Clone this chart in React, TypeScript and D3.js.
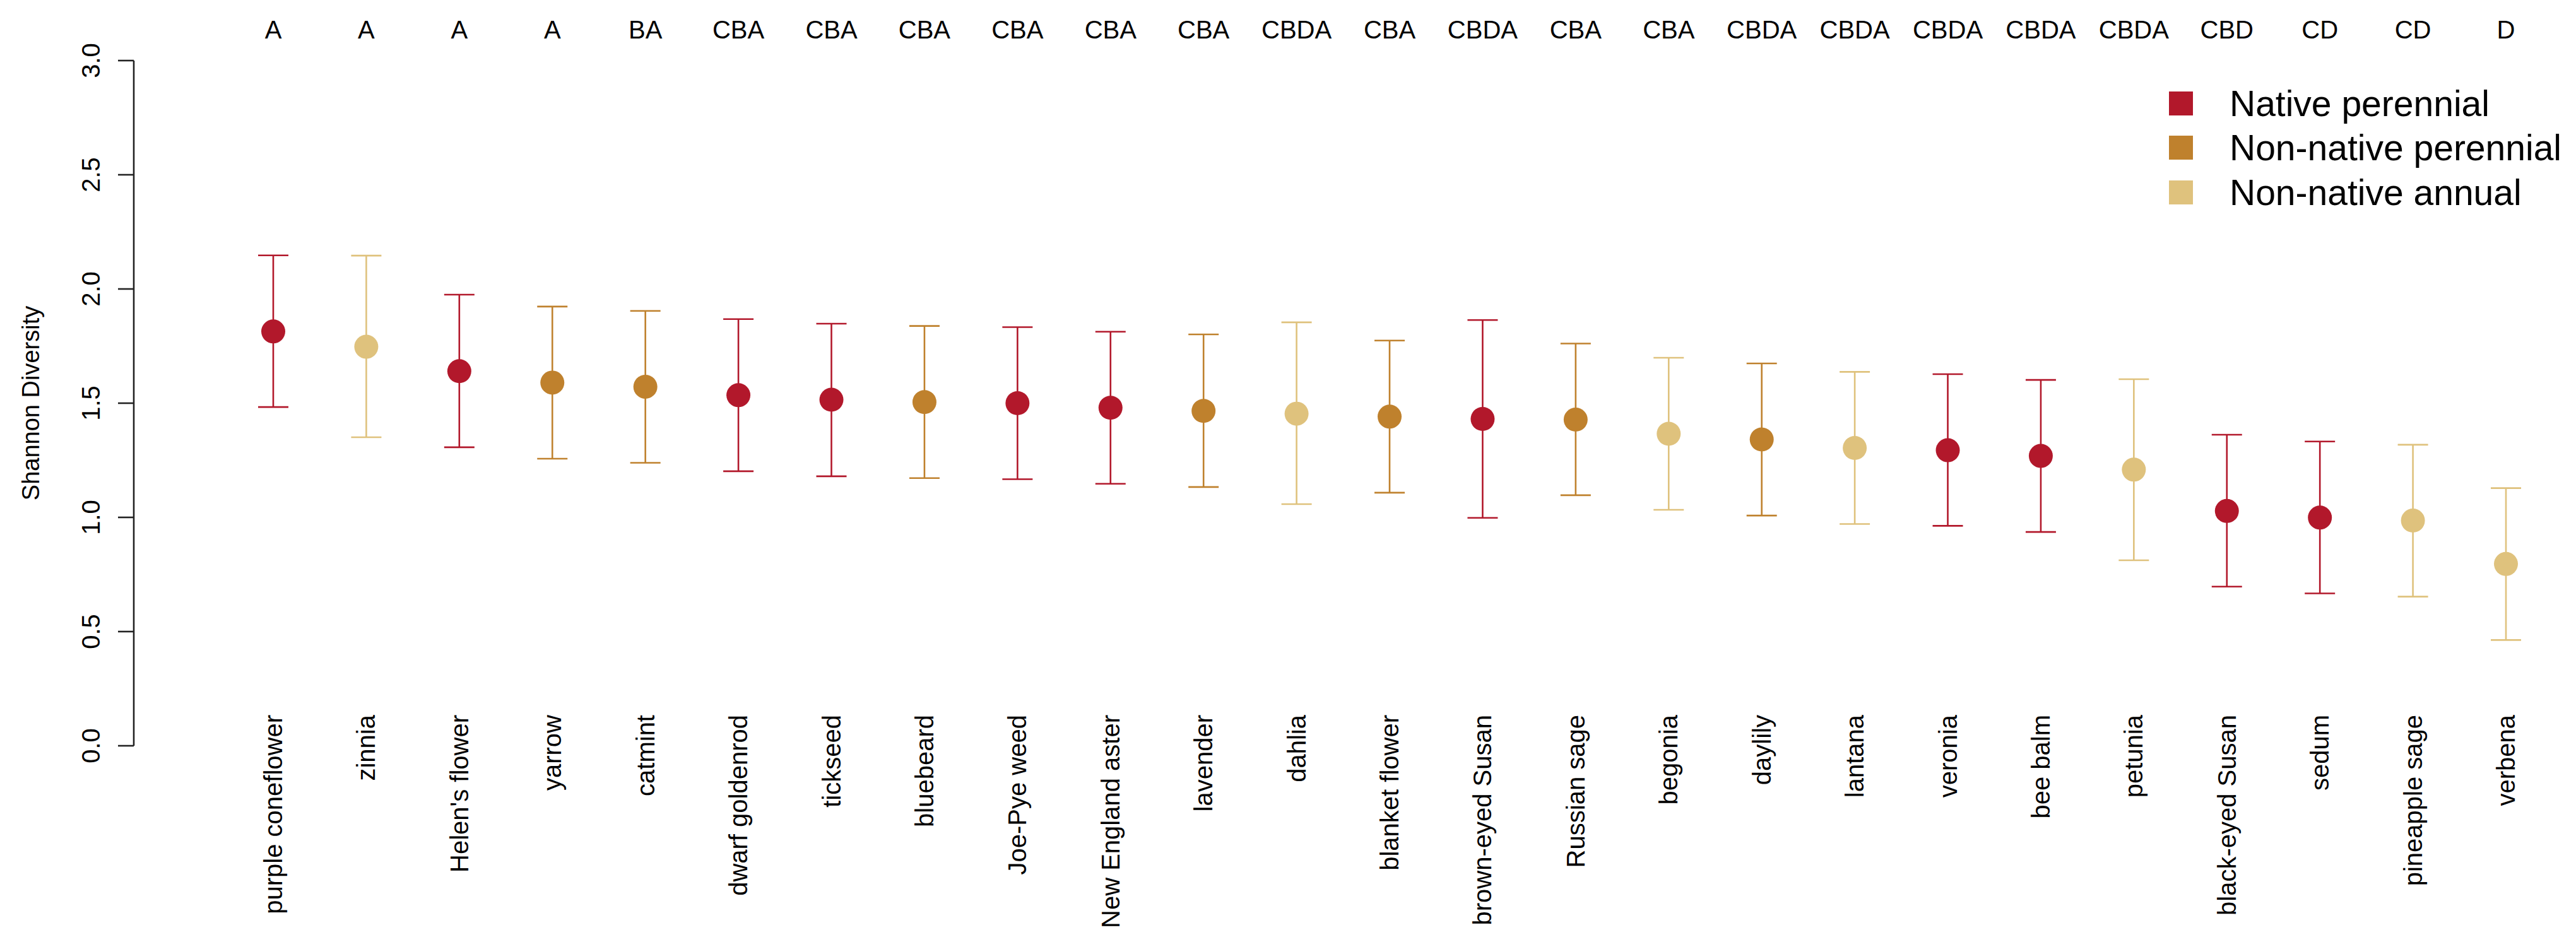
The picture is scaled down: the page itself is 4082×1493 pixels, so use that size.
import React, {useRef, useEffect} from 'react';
import * as d3 from 'd3';

const plants = [
    'purple coneflower', 'zinnia', "Helen's flower", 'yarrow', 'catmint',
    'dwarf goldenrod', 'tickseed', 'bluebeard', 'Joe-Pye weed', 'New England aster',
    'lavender', 'dahlia', 'blanket flower', 'brown-eyed Susan', 'Russian sage',
    'begonia', 'daylily', 'lantana', 'veronia', 'bee balm',
    'petunia', 'black-eyed Susan', 'sedum', 'pineapple sage', 'verbena',
];

// N = native perennial, P = non-native perennial, A = non-native annual
const plantTypes = [
    'N', 'A', 'N', 'P', 'P',
    'N', 'N', 'P', 'N', 'N',
    'P', 'A', 'P', 'N', 'P',
    'A', 'P', 'A', 'N', 'N',
    'A', 'N', 'N', 'A', 'A',
];

const diversity = [
    1.814, 1.747, 1.640, 1.590, 1.572,
    1.535, 1.515, 1.505, 1.500, 1.480,
    1.466, 1.454, 1.441, 1.431, 1.428,
    1.366, 1.341, 1.304, 1.294, 1.269,
    1.209, 1.028, 0.999, 0.986, 0.796,
];

const upperCI = [
    2.147, 2.146, 1.975, 1.923, 1.904,
    1.868, 1.848, 1.838, 1.833, 1.813,
    1.801, 1.854, 1.774, 1.864, 1.761,
    1.699, 1.674, 1.637, 1.627, 1.602,
    1.605, 1.362, 1.332, 1.318, 1.128,
];

const lowerCI = [
    1.483, 1.351, 1.307, 1.257, 1.239,
    1.202, 1.180, 1.172, 1.167, 1.147,
    1.133, 1.058, 1.108, 0.998, 1.097,
    1.033, 1.008, 0.971, 0.963, 0.936,
    0.812, 0.697, 0.667, 0.653, 0.463,
];

const groupLetters = [
    'A', 'A', 'A', 'A', 'BA',
    'CBA', 'CBA', 'CBA', 'CBA', 'CBA',
    'CBA', 'CBDA', 'CBA', 'CBDA', 'CBA',
    'CBA', 'CBDA', 'CBDA', 'CBDA', 'CBDA',
    'CBDA', 'CBD', 'CD', 'CD', 'D',
];

const yTicks = [0, 0.5, 1, 1.5, 2, 2.5, 3];

const typeKeys = ['N', 'P', 'A'];
const typeLabels = ['Native perennial', 'Non-native perennial', 'Non-native annual'];
const typeColors = ['#b2182b', '#bf812d', '#dfc27d'];

const WIDTH = 4082;
const HEIGHT = 1493;
const FONT = '"Liberation Sans", Arial, Helvetica, sans-serif';

const App: React.FC = () => {
    const svgRef = useRef<SVGSVGElement>(null);

    useEffect(() => {
        if (!svgRef.current) return;
        const svg = d3.select(svgRef.current);
        svg.selectAll('*').remove();

        const x = d3.scalePoint<string>().domain(plants).range([433, 3971]);
        const y = d3.scaleLinear().domain([0, 3]).range([1182, 96]);
        const color = d3.scaleOrdinal<string, string>().domain(typeKeys).range(typeColors);

        const rows = plants.map((name, i) => ({
            name,
            type: plantTypes[i],
            value: diversity[i],
            hi: upperCI[i],
            lo: lowerCI[i],
            letters: groupLetters[i],
        }));

        // y axis (R style: line spans ticks only)
        const axisX = 212;
        const axis = svg.append('g').attr('font-family', FONT);
        axis.append('line')
            .attr('x1', axisX).attr('x2', axisX)
            .attr('y1', y(0)).attr('y2', y(3))
            .attr('stroke', '#222').attr('stroke-width', 2.6);
        axis.selectAll('.tick')
            .data(yTicks)
            .enter()
            .append('line')
            .attr('x1', axisX - 25).attr('x2', axisX)
            .attr('y1', d => y(d)).attr('y2', d => y(d))
            .attr('stroke', '#222').attr('stroke-width', 2.6);
        axis.selectAll('.tick-label')
            .data(yTicks)
            .enter()
            .append('text')
            .attr('transform', d => `translate(${158},${y(d)}) rotate(-90)`)
            .attr('text-anchor', 'middle')
            .style('font-size', '40px')
            .text(d => d.toFixed(1));
        axis.append('text')
            .attr('transform', `translate(${62},${(y(0) + y(3)) / 2}) rotate(-90)`)
            .attr('text-anchor', 'middle')
            .style('font-size', '38px')
            .text('Shannon Diversity');

        // error bars
        const bars = svg.selectAll('.bar')
            .data(rows)
            .enter()
            .append('g')
            .attr('stroke', d => color(d.type))
            .attr('stroke-width', 2.6);
        bars.append('line')
            .attr('x1', d => x(d.name)!).attr('x2', d => x(d.name)!)
            .attr('y1', d => y(d.lo)).attr('y2', d => y(d.hi));
        bars.append('line')
            .attr('x1', d => x(d.name)! - 24).attr('x2', d => x(d.name)! + 24)
            .attr('y1', d => y(d.hi)).attr('y2', d => y(d.hi));
        bars.append('line')
            .attr('x1', d => x(d.name)! - 24).attr('x2', d => x(d.name)! + 24)
            .attr('y1', d => y(d.lo)).attr('y2', d => y(d.lo));

        // means
        svg.selectAll('.dot')
            .data(rows)
            .enter()
            .append('circle')
            .attr('cx', d => x(d.name)!)
            .attr('cy', d => y(d.value))
            .attr('r', 19)
            .attr('fill', d => color(d.type));

        // group letters on top
        svg.selectAll('.letters')
            .data(rows)
            .enter()
            .append('text')
            .attr('x', d => x(d.name)!)
            .attr('y', 61)
            .attr('text-anchor', 'middle')
            .attr('font-family', FONT)
            .style('font-size', '40px')
            .text(d => d.letters);

        // category labels, rotated
        svg.selectAll('.cat')
            .data(rows)
            .enter()
            .append('text')
            .attr('transform', d => `translate(${x(d.name)! + 14},${1133}) rotate(-90)`)
            .attr('text-anchor', 'end')
            .attr('font-family', FONT)
            .style('font-size', '40px')
            .text(d => d.name);

        // legend
        const legend = svg.append('g').attr('font-family', FONT);
        const legendY = [164, 234, 305];
        typeKeys.forEach((k, i) => {
            legend.append('rect')
                .attr('x', 3437).attr('y', legendY[i] - 19)
                .attr('width', 38).attr('height', 38)
                .attr('fill', typeColors[i]);
            legend.append('text')
                .attr('x', 3533).attr('y', legendY[i] + 20)
                .style('font-size', '57px')
                .text(typeLabels[i]);
        });
    }, []);

    return (
        <svg
            ref={svgRef}
            width={WIDTH}
            height={HEIGHT}
            viewBox={`0 0 ${WIDTH} ${HEIGHT}`}
            style={{position: 'absolute', left: 0, top: 0, background: '#fff'}}
        />
    );
};

export default App;
